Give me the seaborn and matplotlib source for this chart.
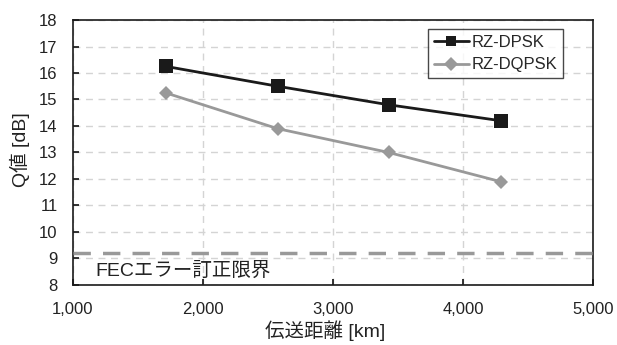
import matplotlib
matplotlib.use("Agg")
import matplotlib.pyplot as plt
import seaborn as sns
import pandas as pd

distance_km = [1715, 2575, 3430, 4290]
q_dpsk = [16.25, 15.5, 14.8, 14.2]
q_dqpsk = [15.25, 13.9, 13.0, 11.9]
series_names = ["RZ-DPSK", "RZ-DQPSK"]
fec_limit = 9.2
x_ticks = [1000, 2000, 3000, 4000, 5000]
x_tick_labels = ["1,000", "2,000", "3,000", "4,000", "5,000"]
y_ticks = list(range(8, 19))

sns.set_theme(style="white")
plt.rcParams['font.family'] = ['Liberation Sans', 'Noto Sans CJK JP', 'DejaVu Sans']

df = pd.DataFrame({
    "distance": distance_km * 2,
    "q": q_dpsk + q_dqpsk,
    "series": [series_names[0]] * 4 + [series_names[1]] * 4,
})

fig = plt.figure(figsize=(6.17, 3.45), dpi=100)
ax = fig.add_axes([0.118, 0.174, 0.843, 0.768])

sns.lineplot(data=df, x="distance", y="q", hue="series", style="series",
             palette={series_names[0]: "#1a1a1a", series_names[1]: "#999999"},
             markers={series_names[0]: "s", series_names[1]: "D"},
             dashes=False, linewidth=2, markersize=9.5, markeredgewidth=0,
             ax=ax, zorder=5)
for line in ax.get_lines():
    if line.get_marker() == "D":
        line.set_markersize(7.5)

ax.set_xlim(1000, 5000)
ax.set_ylim(8, 18)
ax.set_xticks(x_ticks)
ax.set_xticklabels(x_tick_labels)
ax.set_yticks(y_ticks)
ax.grid(True, color="#d4d4d4", linestyle=(0, (5, 4)), linewidth=1)
for s in ax.spines.values():
    s.set_color("#1a1a1a")
    s.set_linewidth(1.2)
ax.tick_params(axis="both", direction="in", length=4, color="#1a1a1a",
               labelsize=12, pad=11, bottom=True, left=True, labelcolor="#222222")
ax.tick_params(axis="x", pad=12)

ax.plot([1000, 5055], [fec_limit, fec_limit], color="#999999", linewidth=2.5,
        linestyle=(0, (5, 3.5)), clip_on=False, zorder=4)
ax.text(1170, 8.55, "FECエラー訂正限界", fontsize=14, va="center", ha="left", color="#222222")

ax.set_xlabel("伝送距離 [km]", fontsize=14, color="#222222")
ax.set_ylabel("Q値 [dB]", fontsize=14, color="#222222")
ax.xaxis.set_label_coords(0.485, -0.135)
ax.yaxis.set_label_coords(-0.083, 0.51)

leg = ax.legend(title=None, loc="upper right", bbox_to_anchor=(0.942, 0.966),
                fontsize=12, frameon=True, fancybox=False, handlelength=2.1,
                handletextpad=0.15, borderpad=0.35, labelspacing=0.45,
                borderaxespad=0)
leg.get_frame().set_edgecolor("#1a1a1a")
leg.get_frame().set_linewidth(1)
for h in leg.legend_handles:
    h.set_markersize(7)

fig.savefig("out.png", dpi=100)
